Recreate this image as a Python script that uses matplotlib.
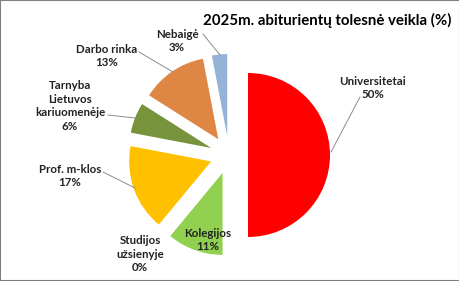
import matplotlib.pyplot as plt
from matplotlib.patches import Rectangle

# data
categories = ["Universitetai", "Kolegijos", "Studijos\nužsienyje", "Prof. m-klos",
              "Tarnyba\nLietuvos\nkariuomenėje", "Darbo rinka", "Nebaigė"]
values = [50, 11, 0, 17, 6, 13, 3]
colors = ["#FF0000", "#92D050", "#4F81BD", "#FFC000", "#77933C", "#DE8744", "#95B3D7"]
title = "2025m. abiturientų tolesnė veikla (%)"

# layout (pixel coords, y measured from top)
W, H = 460, 281
center = (229, 155)
radius = 82
explode_px = 19
label_pos = [(373, 88), (208, 240), (140, 254), (70, 176), (70, 106), (107, 56), (177, 41)]
leaders = [((360, 97), (331, 152)), None, None, ((103, 172), (135, 188)),
           ((108, 115), (135, 118)), ((139, 52), (173, 72)), ((203, 34), (220, 55))]

plt.rcParams['font.family'] = ['Lato', 'DejaVu Sans']

fig = plt.figure(figsize=(W / 100, H / 100), dpi=100)
ax = fig.add_axes([0, 0, 1, 1])

ax.pie(values, colors=colors, startangle=90, counterclock=False,
       center=(center[0], H - center[1]), radius=radius,
       explode=[explode_px] * len(values), frame=True,
       wedgeprops=dict(linewidth=0))
ax.set_xlim(0, W)
ax.set_ylim(0, H)
ax.axis("off")

for cat, v, (lx, ly), ld in zip(categories, values, label_pos, leaders):
    ax.text(lx, H - ly, f"{cat}\n{v}%", ha="center", va="center", fontsize=8.3,
            fontweight="bold", color="#222222", linespacing=1.3)
    if ld:
        (x0, y0), (x1, y1) = ld
        ax.plot([x0, x1], [H - y0, H - y1], color="#8C8C8C", lw=0.7)

ax.text(327, H - 20, title, ha="center", va="center", fontsize=10.8,
        fontweight="bold", color="#000000")

fig.patches.append(Rectangle((0, 0), 1, 1, transform=fig.transFigure,
                             fill=False, edgecolor="#7F7F7F", lw=1.5))

fig.savefig("out.png", dpi=100)
